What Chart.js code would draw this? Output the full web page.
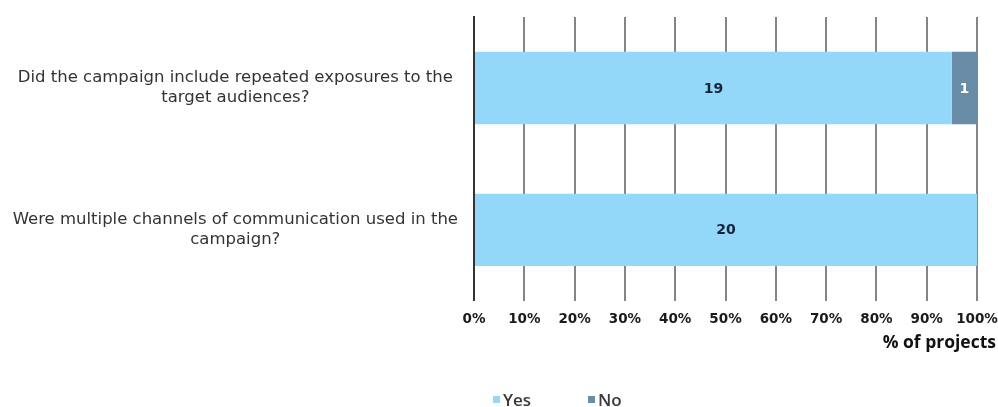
<!DOCTYPE html>
<html>
<head>
<meta charset="utf-8">
<script src="https://cdn.jsdelivr.net/npm/chart.js@4.4.0/dist/chart.umd.min.js"></script>
<style>
  body { margin: 0; background: #fff; }
  #wrap { width: 998px; height: 407px; }
</style>
</head>
<body>
<div id="wrap"><canvas id="barChart"></canvas></div>
<script>
// data
var questions = [
  ["Did the campaign include repeated exposures to the", "target audiences?"],
  ["Were multiple channels of communication used in the", "campaign?"]
];
var yesCounts = [19, 20];
var noCounts = [1, 0];
var seriesNames = ["Yes", "No"];
var seriesColors = ["#93d8f9", "#6a8da7"];
var labelColors = ["#15233a", "#ffffff"];
var axisTitle = "% of projects";

// 100% stacked: turn counts into shares
var yesPct = yesCounts.map(function (v, i) { return v / (v + noCounts[i]) * 100; });
var noPct = noCounts.map(function (v, i) { return v / (yesCounts[i] + v) * 100; });
var counts = [yesCounts, noCounts];

// count labels inside each segment
var barLabels = {
  id: "barLabels",
  afterDatasetsDraw: function (chart) {
    var ctx = chart.ctx;
    ctx.save();
    ctx.font = "bold 14px 'DejaVu Sans'";
    ctx.textAlign = "center";
    ctx.textBaseline = "middle";
    chart.data.datasets.forEach(function (ds, di) {
      chart.getDatasetMeta(di).data.forEach(function (bar, i) {
        var n = counts[di][i];
        if (!n) return;
        var p = bar.getCenterPoint();
        ctx.fillStyle = labelColors[di];
        ctx.fillText(String(n), p.x, p.y + 1);
      });
    });
    ctx.restore();
  }
};

// axis title at the far right and a small legend under it
var extras = {
  id: "extras",
  afterDraw: function (chart) {
    var ctx = chart.ctx;
    var area = chart.chartArea;
    ctx.save();
    ctx.fillStyle = "#111";
    ctx.font = "bold 17.5px 'Open Sans'";
    ctx.textAlign = "right";
    ctx.textBaseline = "middle";
    ctx.fillText(axisTitle, 996, 343);

    ctx.font = "600 17px 'Open Sans'";
    ctx.textAlign = "left";
    var x = area.left + 19;
    seriesNames.forEach(function (name, i) {
      ctx.fillStyle = seriesColors[i];
      ctx.fillRect(x, 396, 7, 7);
      ctx.fillStyle = "#3a3a3a";
      ctx.fillText(name, x + 10, 401);
      x += 95;
    });
    ctx.restore();
  }
};

new Chart("barChart", {
  type: "bar",
  data: {
    labels: questions,
    datasets: [
      { label: seriesNames[0], data: yesPct, backgroundColor: seriesColors[0] },
      { label: seriesNames[1], data: noPct, backgroundColor: seriesColors[1] }
    ]
  },
  options: {
    indexAxis: "y",
    responsive: true,
    maintainAspectRatio: false,
    animation: false,
    layout: { padding: { top: 17, left: 8, right: 0, bottom: 68 } },
    datasets: { bar: { categoryPercentage: 1, barPercentage: 0.51 } },
    plugins: {
      legend: { display: false },
      tooltip: { enabled: false }
    },
    scales: {
      x: {
        stacked: true,
        min: 0,
        max: 100,
        grid: { color: "#858585", lineWidth: 2, drawTicks: false },
        border: { display: false },
        afterFit: function (scale) {
          scale.paddingRight = 21;
        },
        ticks: {
          stepSize: 10,
          padding: 11,
          color: "#1a1a1a",
          font: { family: "'DejaVu Sans'", size: 13.5, weight: "bold" },
          callback: function (v) { return v + "%"; }
        }
      },
      y: {
        stacked: true,
        grid: { display: false, drawTicks: false },
        border: { display: true, color: "#333", width: 2 },
        afterFit: function (scale) {
          scale.width = 466;
          scale.paddingTop = 0;
          scale.paddingBottom = 0;
        },
        ticks: {
          crossAlign: "center",
          padding: 16,
          color: "#333",
          font: { family: "'DejaVu Sans'", size: 16.5, lineHeight: 1.2 }
        }
      }
    }
  },
  plugins: [barLabels, extras]
});
</script>
</body>
</html>
